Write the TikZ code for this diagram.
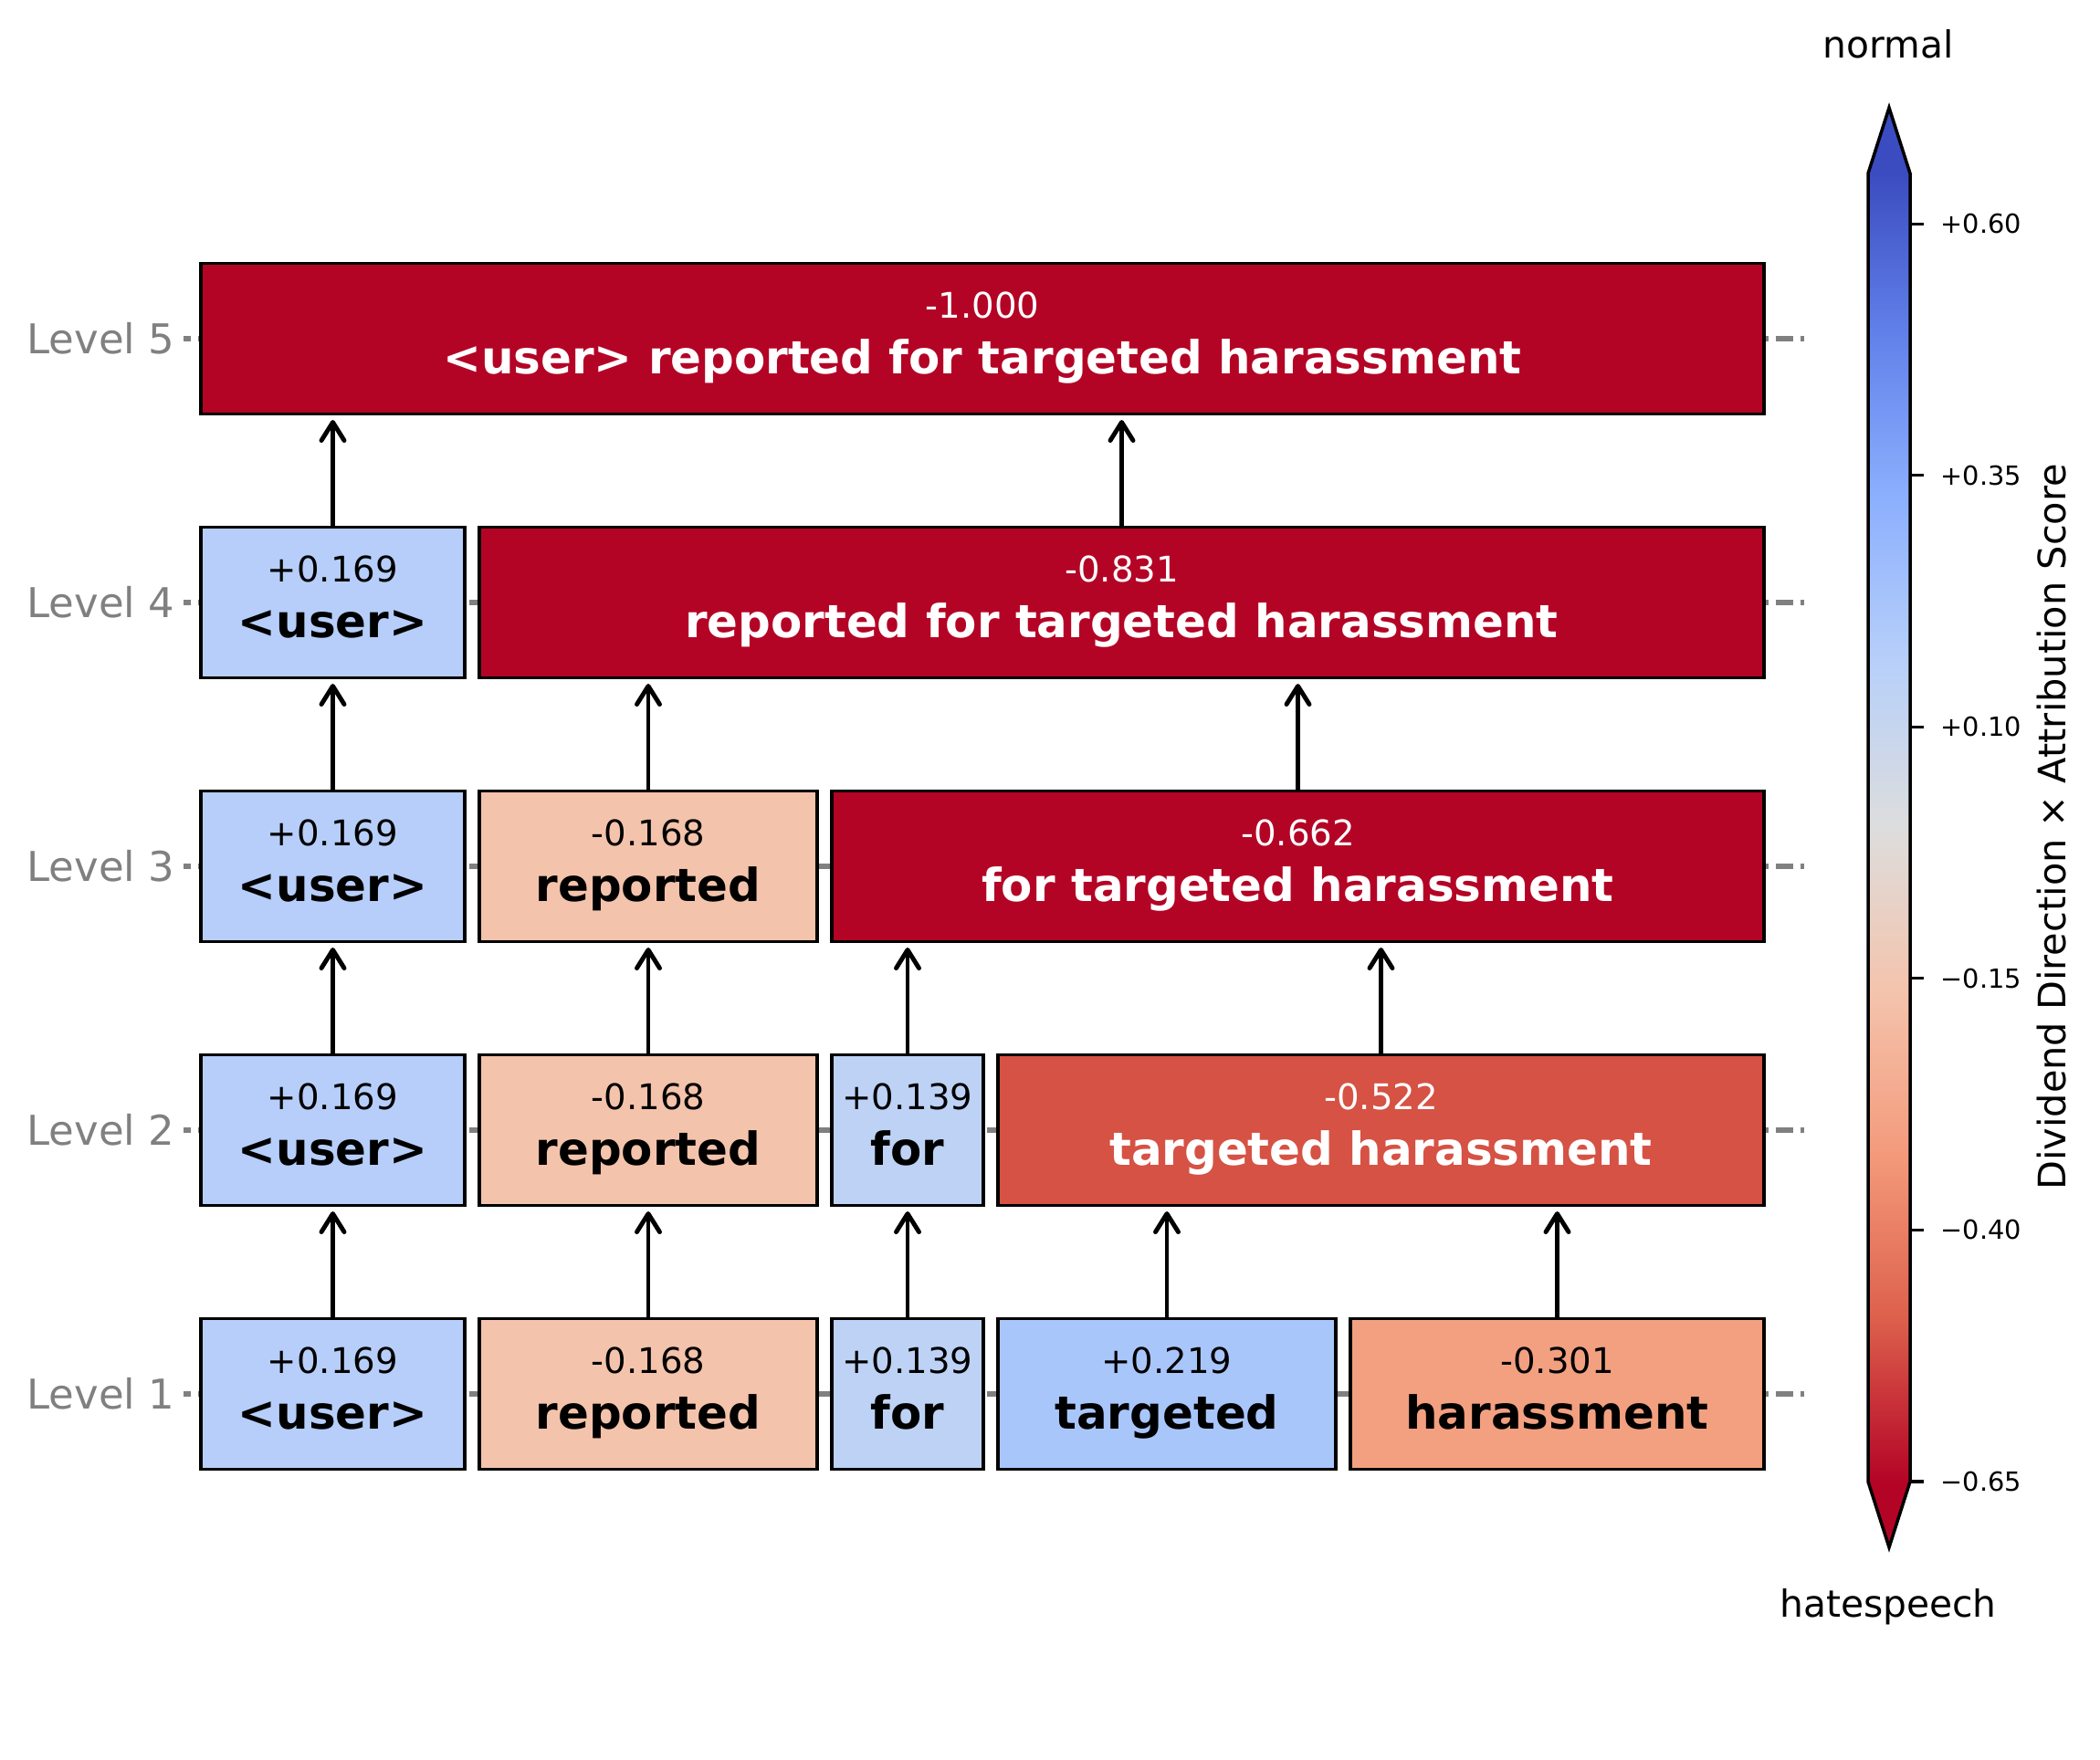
\documentclass[tikz,border=0pt]{standalone}
\usepackage{fontspec}
\setmainfont{DejaVu Sans}
\usetikzlibrary{arrows.meta}

\definecolor{lvlgray}{HTML}{808080}
\definecolor{cwUser}{HTML}{B6CEF9}
\definecolor{cwFor}{HTML}{BDD2F5}
\definecolor{cwTargeted}{HTML}{A9C6FB}
\definecolor{cwReported}{HTML}{F4C3AB}
\definecolor{cwHarass}{HTML}{F3A080}
\definecolor{cwTargHar}{HTML}{D65244}
\definecolor{cwDeep}{HTML}{B40426}
% coolwarm stops, bottom (red) to top (blue)
\definecolor{cwb0}{RGB}{180,4,38}
\definecolor{cwb1}{RGB}{221,96,76}
\definecolor{cwb2}{RGB}{244,154,123}
\definecolor{cwb3}{RGB}{244,196,173}
\definecolor{cwb4}{RGB}{221,221,221}
\definecolor{cwb5}{RGB}{184,208,249}
\definecolor{cwb6}{RGB}{141,176,254}
\definecolor{cwb7}{RGB}{98,130,234}
\definecolor{cwb8}{RGB}{59,76,192}
\pgfdeclareverticalshading{coolwarmbar}{100bp}{color(0bp)=(cwb0); color(25bp)=(cwb0);
  color(31.25bp)=(cwb1); color(37.5bp)=(cwb2); color(43.75bp)=(cwb3); color(50bp)=(cwb4);
  color(56.25bp)=(cwb5); color(62.5bp)=(cwb6); color(68.75bp)=(cwb7); color(75bp)=(cwb8);
  color(100bp)=(cwb8)}

\begin{document}
\begin{tikzpicture}[
        tok/.style={draw, line width=0.9pt, minimum height=1.65cm, inner sep=0pt},
        score/.style={font=\fontsize{11}{13}\selectfont, anchor=base, inner sep=0pt},
        tokword/.style={font=\fontsize{14.2}{17}\selectfont\bfseries, anchor=base, inner sep=0pt},
        lvltext/.style={font=\fontsize{12.8}{15}\selectfont, text=lvlgray, anchor=east, inner sep=0pt},
        guide/.style={lvlgray, line width=1.5pt, dash pattern=on 0.19cm off 0.08cm, dash phase=0.11cm},
        uparrow/.style={-{Straight Barb[length=2mm, width=2.5mm, round]}, line width=1.4pt, shorten >=0.05cm},
        cbtick/.style={font=\fontsize{8.2}{10}\selectfont, anchor=west, inner sep=0pt},
        cbend/.style={font=\fontsize{11.6}{14}\selectfont, inner sep=0pt}
    ]
    \fill[white] (0,0) rectangle (23,19.27);

    % level labels and guide lines
    \foreach \lv/\ly in {1/4.00, 2/6.89, 3/9.78, 4/12.67, 5/15.56} {
        \node[lvltext] (lv\lv) at (1.92,\ly) {Level \lv};
        \draw[guide] (2.01,\ly) -- (19.76,\ly);
    }

    % token boxes
    \foreach \nm/\cx/\bw/\cy/\fillc/\txtc/\scoretxt/\wtxt in {
        t1u/3.645/2.89/4.00/cwUser/black/+0.169/<user>,
        t1r/7.10/3.70/4.00/cwReported/black/-0.168/reported,
        t1f/9.94/1.66/4.00/cwFor/black/+0.139/for,
        t1t/12.78/3.70/4.00/cwTargeted/black/+0.219/targeted,
        t1h/17.055/4.53/4.00/cwHarass/black/-0.301/harassment,
        t2u/3.645/2.89/6.89/cwUser/black/+0.169/<user>,
        t2r/7.10/3.70/6.89/cwReported/black/-0.168/reported,
        t2f/9.94/1.66/6.89/cwFor/black/+0.139/for,
        t2th/15.125/8.39/6.89/cwTargHar/white/-0.522/targeted harassment,
        t3u/3.645/2.89/9.78/cwUser/black/+0.169/<user>,
        t3r/7.10/3.70/9.78/cwReported/black/-0.168/reported,
        t3fth/14.215/10.21/9.78/cwDeep/white/-0.662/for targeted harassment,
        t4u/3.645/2.89/12.67/cwUser/black/+0.169/<user>,
        t4rfth/12.285/14.07/12.67/cwDeep/white/-0.831/reported for targeted harassment,
        t5all/10.76/17.12/15.56/cwDeep/white/-1.000/<user> reported for targeted harassment} {
        \node[tok, fill=\fillc, minimum width=\bw cm] (\nm) at (\cx,\cy) {};
        \node[score, text=\txtc] (\nm-s) at ([yshift=0.225cm]\nm.center) {\scoretxt};
        \node[tokword, text=\txtc] (\nm-w) at ([yshift=-0.385cm]\nm.center) {\wtxt};
    }

    % merges
    \foreach \c/\p in {t1u/t2u, t1r/t2r, t1f/t2f, t1t/t2th, t1h/t2th,
        t2u/t3u, t2r/t3r, t2f/t3fth, t2th/t3fth,
        t3u/t4u, t3r/t4rfth, t3fth/t4rfth,
        t4u/t5all, t4rfth/t5all}
        \draw[uparrow] (\c.north) -- (\c.north |- \p.south);

    % colour bar
    \fill[cwb8] (20.46,17.37) -- (20.69,18.09) -- (20.92,17.37) -- cycle;
    \fill[cwb0] (20.46,3.04) -- (20.69,2.32) -- (20.92,3.04) -- cycle;
    \shade[shading=coolwarmbar] (20.46,3.04) rectangle (20.92,17.37);
    \draw[line width=1pt, line join=miter] (20.46,3.04) -- (20.46,17.37) -- (20.69,18.09) -- (20.92,17.37)
        -- (20.92,3.04) -- (20.69,2.32) -- cycle;
    \foreach \v/\lab [count=\i] in {-0.65/−0.65, -0.40/−0.40, -0.15/−0.15, 0.10/+0.10, 0.35/+0.35, 0.60/+0.60}
        \draw[line width=0.9pt] (20.92,{3.04+(\v+0.65)*11.023}) -- ++(0.15,0)
            node[cbtick, xshift=0.17cm] (tick\i) {\lab};
    \node[cbend] (cbtop) at (20.68,18.79) {normal};
    \node[cbend] (cbbot) at (20.68,1.67) {hatespeech};
    \node[font=\fontsize{11.8}{14}\selectfont, rotate=90, inner sep=0pt] (cblabel) at (22.47,10.21)
        {Dividend Direction × Attribution Score};
\end{tikzpicture}
\end{document}
